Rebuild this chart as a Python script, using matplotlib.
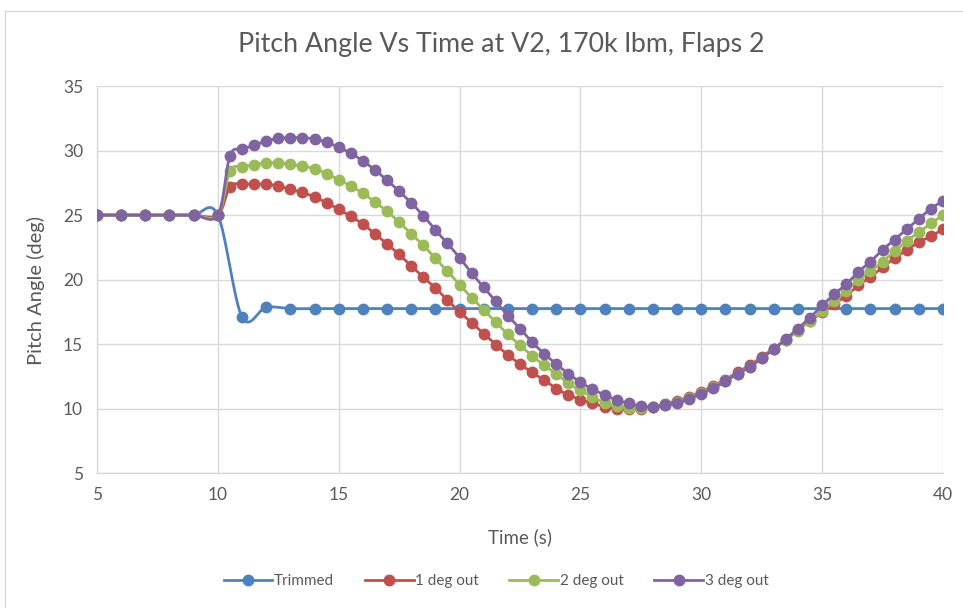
import matplotlib.pyplot as plt
from matplotlib.lines import Line2D
import numpy as np

plt.rcParams['font.family'] = ['Lato', 'DejaVu Sans']

# ---- data ----
time_trim = [5, 6, 7, 8, 9, 10, 11, 12, 13, 14, 15, 16, 17, 18, 19, 20, 21, 22,
             23, 24, 25, 26, 27, 28, 29, 30, 31, 32, 33, 34, 35, 36, 37, 38, 39, 40]
pitch_trim = [25.0, 25.0, 25.0, 25.0, 25.0, 25.0, 17.1, 17.85, 17.75, 17.75, 17.75,
              17.75, 17.75, 17.75, 17.75, 17.75, 17.75, 17.75, 17.75, 17.75, 17.75,
              17.75, 17.75, 17.75, 17.75, 17.75, 17.75, 17.75, 17.75, 17.75, 17.75,
              17.75, 17.75, 17.75, 17.75, 17.75]

time_out = [5, 6, 7, 8, 9, 10, 10.5, 11, 11.5, 12, 12.5, 13, 13.5, 14, 14.5, 15,
            15.5, 16, 16.5, 17, 17.5, 18, 18.5, 19, 19.5, 20, 20.5, 21, 21.5, 22,
            22.5, 23, 23.5, 24, 24.5, 25, 25.5, 26, 26.5, 27, 27.5, 28, 28.5, 29,
            29.5, 30, 30.5, 31, 31.5, 32, 32.5, 33, 33.5, 34, 34.5, 35, 35.5, 36,
            36.5, 37, 37.5, 38, 38.5, 39, 39.5, 40]

pitch_1deg = [25.0, 25.0, 25.0, 25.0, 25.0, 25.0,
              27.2, 27.4, 27.4, 27.4, 27.25, 27.0, 26.75, 26.4, 25.95, 25.45,
              24.9, 24.3, 23.55, 22.75, 21.95, 21.05, 20.2, 19.35, 18.4, 17.5,
              16.65, 15.8, 14.95, 14.15, 13.45, 12.8, 12.2, 11.55, 11.05, 10.7,
              10.4, 10.15, 10.0, 9.95, 10.0, 10.15, 10.35, 10.6, 10.9, 11.3,
              11.75, 12.25, 12.8, 13.35, 14.0, 14.65, 15.35, 16.1, 16.8, 17.45,
              18.1, 18.75, 19.55, 20.2, 20.95, 21.65, 22.3, 22.9, 23.35, 23.9]

pitch_2deg = [25.0, 25.0, 25.0, 25.0, 25.0, 25.0,
              28.4, 28.75, 28.9, 29.05, 29.05, 28.95, 28.8, 28.6, 28.2, 27.75,
              27.25, 26.7, 26.0, 25.3, 24.45, 23.55, 22.65, 21.65, 20.65, 19.6,
              18.6, 17.65, 16.7, 15.75, 14.9, 14.1, 13.35, 12.7, 11.95, 11.4,
              10.9, 10.45, 10.2, 10.08, 10.05, 10.1, 10.25, 10.5, 10.8, 11.2,
              11.65, 12.15, 12.7, 13.25, 13.9, 14.6, 15.3, 16.05, 16.8, 17.55,
              18.3, 19.1, 20.0, 20.65, 21.4, 22.2, 23.0, 23.65, 24.35, 25.0]

pitch_3deg = [25.0, 25.0, 25.0, 25.0, 25.0, 25.0,
              29.6, 30.1, 30.4, 30.75, 30.95, 31.0, 31.0, 30.9, 30.65, 30.25,
              29.8, 29.2, 28.5, 27.7, 26.85, 25.95, 24.95, 23.85, 22.8, 21.7,
              20.5, 19.4, 18.3, 17.2, 16.2, 15.15, 14.25, 13.45, 12.7, 12.05,
              11.5, 11.05, 10.65, 10.4, 10.2, 10.12, 10.25, 10.45, 10.75, 11.15,
              11.6, 12.1, 12.7, 13.2, 13.9, 14.6, 15.4, 16.2, 17.05, 18.0,
              18.85, 19.65, 20.6, 21.4, 22.3, 23.1, 23.9, 24.7, 25.5, 26.1]

series = [
    ("Trimmed", time_trim, pitch_trim, "#4F81BD"),
    ("1 deg out", time_out, pitch_1deg, "#C0504D"),
    ("2 deg out", time_out, pitch_2deg, "#9BBB59"),
    ("3 deg out", time_out, pitch_3deg, "#8064A2"),
]

GRAY_TXT = "#595959"
GRID = "#D9D9D9"


def smooth(x, y, n=20):
    # Excel-style smoothed line: cubic bezier, control points from neighbours
    x = np.asarray(x, float)
    y = np.asarray(y, float)
    pts = np.column_stack([x, y])
    out = [pts[0]]
    t = np.linspace(0, 1, n)[1:, None]
    for i in range(len(pts) - 1):
        p0 = pts[i - 1] if i > 0 else pts[i]
        p1 = pts[i]
        p2 = pts[i + 1]
        p3 = pts[i + 2] if i + 2 < len(pts) else pts[i + 1]
        c1 = p1 + (p2 - p0) / 6
        c2 = p2 - (p3 - p1) / 6
        seg = ((1 - t) ** 3) * p1 + 3 * ((1 - t) ** 2) * t * c1 \
            + 3 * (1 - t) * t ** 2 * c2 + t ** 3 * p2
        out.extend(seg)
    out = np.array(out)
    return out[:, 0], out[:, 1]


fig = plt.figure(figsize=(9.63, 6.08), dpi=100)
ax = fig.add_axes([0.1007, 0.222, 0.8785, 0.6364])

for i, (name, xs, ys, col) in enumerate(series):
    sx, sy = smooth(xs, ys)
    ax.plot(sx, sy, color=col, lw=2.0, zorder=3 + i, solid_capstyle='round')
    ax.plot(xs, ys, 'o', color=col, ms=7.5, zorder=3 + i)

ax.set_xlim(5, 40)
ax.set_ylim(5, 35)
ax.set_xticks([5, 10, 15, 20, 25, 30, 35, 40])
ax.set_yticks([5, 10, 15, 20, 25, 30, 35])
ax.grid(True, color=GRID, lw=1.0, zorder=0)
ax.set_axisbelow(True)
for s in ['top', 'right']:
    ax.spines[s].set_visible(False)
for s in ['left', 'bottom']:
    ax.spines[s].set_color(GRID)
    ax.spines[s].set_linewidth(1.0)
ax.tick_params(length=0, labelsize=12.5, labelcolor=GRAY_TXT)
ax.tick_params(axis='x', pad=10)
ax.tick_params(axis='y', pad=10)

ax.set_xlabel("Time (s)", fontsize=13.5, color=GRAY_TXT)
ax.set_ylabel("Pitch Angle (deg)", fontsize=14.5, color=GRAY_TXT)
ax.xaxis.set_label_coords(0.5, -0.142)
ax.yaxis.set_label_coords(-0.0615, 0.472)

fig.text(0.521, 0.926, "Pitch Angle Vs Time at V2, 170k lbm, Flaps 2",
         ha='center', va='center', fontsize=19.3, color=GRAY_TXT)

handles = [Line2D([], [], color=c, lw=2.0, marker='o', ms=7.5) for _, _, _, c in series]
fig.legend(handles, [s[0] for s in series], loc='center', ncol=4,
           bbox_to_anchor=(0.515, 0.0444), frameon=False, fontsize=11,
           handlelength=3.2, handletextpad=0.1, columnspacing=2.0,
           labelcolor=GRAY_TXT)

# chart area border (left and top edges visible in the reference)
fig.add_artist(Line2D([0.0052, 0.0052], [0.0, 0.982], color=GRID, lw=1.0,
                      transform=fig.transFigure))
fig.add_artist(Line2D([0.0052, 1.0], [0.982, 0.982], color=GRID, lw=1.0,
                      transform=fig.transFigure))

fig.savefig("out.png", dpi=100)
